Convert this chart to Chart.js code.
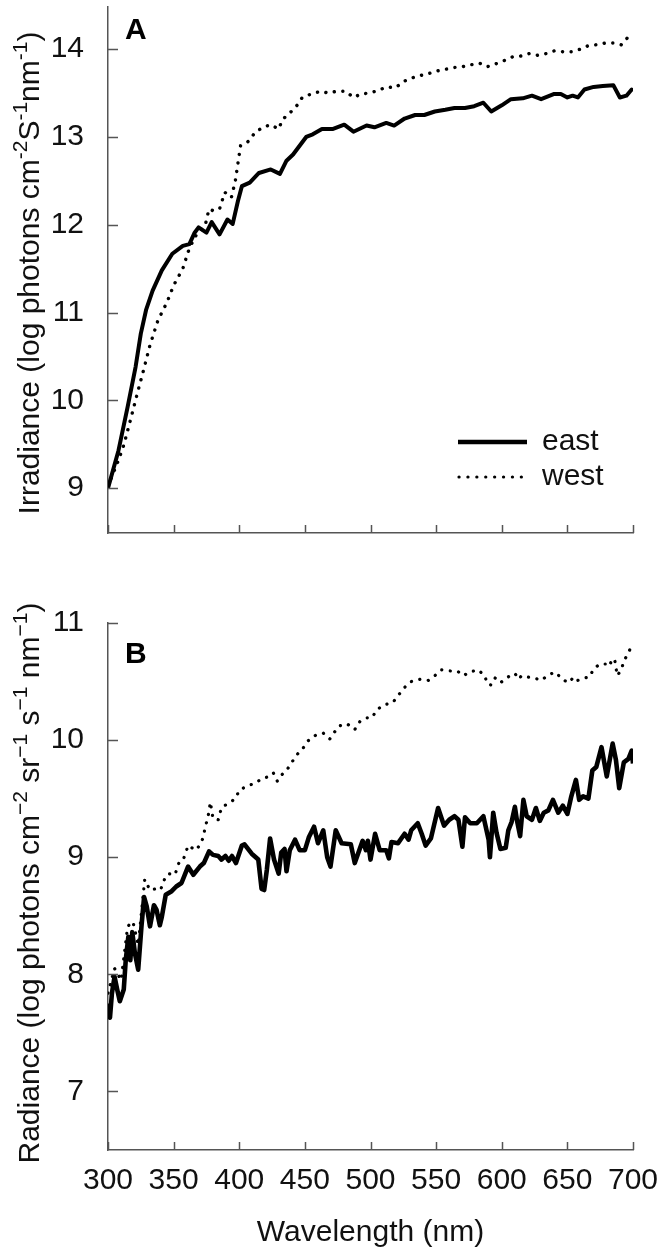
<!DOCTYPE html>
<html>
<head>
<meta charset="utf-8">
<script src="https://cdn.jsdelivr.net/npm/chart.js@4.4.1/dist/chart.umd.min.js"></script>
<style>
    body { margin: 0; background: #fff; width: 662px; height: 1253px; position: relative; overflow: hidden; }
    .panel { position: absolute; left: 0; width: 662px; }
    #boxA { top: 0; height: 560px; }
    #boxB { top: 570px; height: 683px; }
</style>
</head>
<body>
<div class="panel" id="boxA"><canvas id="chartA"></canvas></div>
<div class="panel" id="boxB"><canvas id="chartB"></canvas></div>
<script>
// ---- data ----
const xTicks = [300, 350, 400, 450, 500, 550, 600, 650, 700];
const yTicksA = [9, 10, 11, 12, 13, 14];
const yTicksB = [7, 8, 9, 10, 11];

// panel A: irradiance
const wlEastA = [300, 308, 315, 321, 325, 329, 334, 341, 349, 357, 362, 366, 369, 375, 379, 385, 391, 395, 399, 402, 408, 415, 424, 431, 436, 441, 446, 451, 456, 463, 471, 480, 487, 497, 503, 512, 518, 526, 534, 541, 549, 557, 564, 572, 579, 586, 592, 600, 607, 616, 623, 630, 640, 645, 650, 654, 658, 663, 670, 677, 685, 690, 695, 699, 700];
const irrEast = [9.00, 9.43, 9.93, 10.38, 10.76, 11.03, 11.25, 11.48, 11.67, 11.76, 11.78, 11.91, 11.97, 11.91, 12.03, 11.89, 12.06, 12.01, 12.27, 12.44, 12.48, 12.59, 12.63, 12.58, 12.73, 12.80, 12.90, 13.00, 13.03, 13.09, 13.09, 13.14, 13.06, 13.13, 13.11, 13.16, 13.13, 13.21, 13.25, 13.25, 13.29, 13.31, 13.33, 13.33, 13.35, 13.39, 13.29, 13.36, 13.43, 13.44, 13.47, 13.43, 13.49, 13.49, 13.45, 13.47, 13.45, 13.54, 13.57, 13.58, 13.59, 13.45, 13.47, 13.54, 13.52];
const wlWestA = [300, 308, 312, 317, 322, 327, 332, 338, 345, 350, 357, 361, 366, 374, 377, 380, 385, 389, 394, 397, 399, 401, 407, 412, 418, 424, 430, 433, 439, 444, 448, 455, 462, 468, 474, 481, 487, 493, 499, 506, 512, 519, 525, 531, 538, 544, 550, 557, 563, 570, 576, 583, 589, 595, 602, 608, 614, 621, 627, 634, 640, 647, 653, 660, 666, 672, 679, 685, 691, 697, 700];
const irrWest = [9.02, 9.32, 9.49, 9.77, 10.06, 10.34, 10.63, 10.91, 11.12, 11.31, 11.50, 11.69, 11.86, 11.99, 12.18, 12.16, 12.18, 12.37, 12.31, 12.50, 12.70, 12.90, 12.95, 13.05, 13.11, 13.14, 13.09, 13.20, 13.28, 13.36, 13.45, 13.49, 13.52, 13.50, 13.52, 13.52, 13.45, 13.49, 13.50, 13.53, 13.57, 13.56, 13.63, 13.67, 13.70, 13.72, 13.75, 13.77, 13.79, 13.80, 13.82, 13.84, 13.80, 13.83, 13.87, 13.91, 13.92, 13.95, 13.93, 13.95, 13.98, 13.97, 13.97, 14.00, 14.04, 14.05, 14.07, 14.07, 14.05, 14.15, 14.17];

// panel B: radiance
const wlEastB = [300, 301.5, 303, 305, 307, 309, 312, 313.5, 315.5, 317, 318.5, 320.5, 323, 325.5, 327.5, 329.5, 332, 335, 337, 339.5, 341, 344, 348.5, 352, 356, 361, 365, 370, 373, 377, 380, 384, 386.5, 389.5, 392, 394.5, 397.5, 402, 404, 409.5, 414.5, 417, 419, 421, 423.5, 426.5, 430, 432, 434.5, 436, 438.5, 442.5, 446, 450, 453, 457, 460, 464, 467, 469.5, 473.5, 478, 485, 488, 494, 496.5, 498, 500, 503.5, 507, 512, 514, 516, 521, 526, 529, 531, 536, 539, 542, 546, 551.5, 556, 560, 564, 567, 570, 572, 576, 581, 586, 590, 591, 593.5, 596, 599, 603, 605, 607.5, 610, 611.5, 614, 616.5, 619, 623, 626, 629, 632, 635.5, 639, 643, 646.5, 650, 653, 656.5, 659, 662, 666, 669, 672, 676, 680, 684.5, 687, 689.5, 693, 696.5, 699, 700];
const radEast = [7.75, 7.63, 7.84, 7.98, 7.87, 7.77, 7.87, 8.12, 8.32, 8.12, 8.36, 8.18, 8.04, 8.41, 8.66, 8.58, 8.41, 8.59, 8.55, 8.42, 8.49, 8.68, 8.71, 8.75, 8.78, 8.92, 8.85, 8.92, 8.95, 9.05, 9.02, 9.01, 8.98, 9.01, 8.97, 9.01, 8.95, 9.10, 9.11, 9.03, 8.98, 8.73, 8.72, 8.89, 9.16, 8.98, 8.86, 9.04, 9.07, 8.88, 9.06, 9.15, 9.06, 9.06, 9.17, 9.26, 9.12, 9.23, 9.00, 8.92, 9.23, 9.12, 9.11, 8.95, 9.14, 9.06, 9.14, 8.98, 9.20, 9.06, 9.06, 8.99, 9.13, 9.12, 9.20, 9.15, 9.23, 9.29, 9.20, 9.10, 9.16, 9.42, 9.27, 9.32, 9.35, 9.32, 9.09, 9.34, 9.29, 9.29, 9.35, 9.15, 9.00, 9.38, 9.21, 9.07, 9.08, 9.23, 9.30, 9.43, 9.32, 9.18, 9.49, 9.35, 9.32, 9.42, 9.31, 9.38, 9.40, 9.49, 9.38, 9.44, 9.37, 9.52, 9.66, 9.49, 9.52, 9.50, 9.74, 9.77, 9.94, 9.69, 9.97, 9.83, 9.59, 9.81, 9.84, 9.91, 9.80];
const wlWestB = [300, 305, 310, 315, 319, 323, 328, 332, 336, 340, 343, 346, 351, 354, 357, 359, 361, 364, 367, 371, 373, 374, 376, 378, 380, 384, 385, 387, 392, 397, 400, 406, 412, 417, 423, 426, 429, 432, 436, 440, 445, 448, 452, 458, 464, 469, 472, 476, 482, 488, 492, 497, 501, 505, 510, 517, 521, 526, 531, 538, 544, 549, 554, 561, 566, 571, 575, 582, 587, 589, 592, 595, 599, 605, 610, 613, 615, 619, 625, 630, 636, 641, 646, 651, 655, 658, 663, 667, 670, 675, 679, 682, 684, 686, 688, 691, 693, 696, 699, 700];
const radWest = [7.84, 8.05, 7.95, 8.41, 8.45, 8.25, 8.81, 8.72, 8.73, 8.72, 8.81, 8.86, 8.85, 8.95, 8.97, 9.03, 9.10, 9.08, 9.06, 9.12, 9.19, 9.26, 9.33, 9.47, 9.33, 9.32, 9.37, 9.43, 9.46, 9.50, 9.57, 9.61, 9.63, 9.67, 9.69, 9.72, 9.65, 9.70, 9.74, 9.81, 9.89, 9.92, 9.99, 10.04, 10.06, 10.01, 10.06, 10.12, 10.14, 10.09, 10.16, 10.19, 10.19, 10.26, 10.30, 10.32, 10.38, 10.45, 10.50, 10.52, 10.51, 10.55, 10.60, 10.59, 10.59, 10.55, 10.58, 10.60, 10.55, 10.48, 10.47, 10.53, 10.49, 10.54, 10.57, 10.52, 10.55, 10.54, 10.53, 10.51, 10.56, 10.58, 10.52, 10.49, 10.54, 10.51, 10.53, 10.54, 10.61, 10.65, 10.65, 10.63, 10.69, 10.69, 10.55, 10.60, 10.67, 10.74, 10.80, 10.82];

const FONT = '"Liberation Sans", Arial, sans-serif';
const FS = 30;
const axisColor = '#555';
Chart.defaults.font.family = FONT;
Chart.defaults.font.size = FS;
Chart.defaults.color = '#111';

function pts(xs, ys) {
    return xs.map((x, i) => ({ x: x, y: ys[i] }));
}

// tick marks pointing inward, panel letter, y title with superscripts, legend
function decor(letter, letterOff, titleSegs, titleX, titleY, showLegend) {
    return {
        id: 'decor' + letter,
        afterDraw(chart) {
            const ctx = chart.ctx;
            const area = chart.chartArea;
            const xs = chart.scales.x, ys = chart.scales.y;
            ctx.save();
            ctx.strokeStyle = axisColor;
            ctx.lineWidth = 1.5;
            ctx.beginPath();
            xs.ticks.forEach(t => {
                const px = Math.round(xs.getPixelForValue(t.value)) + 0.5;
                ctx.moveTo(px, area.bottom);
                ctx.lineTo(px, area.bottom - 8);
            });
            ys.ticks.forEach(t => {
                const py = Math.round(ys.getPixelForValue(t.value)) + 0.5;
                ctx.moveTo(area.left, py);
                ctx.lineTo(area.left + 10, py);
            });
            ctx.stroke();

            ctx.fillStyle = '#000';
            ctx.font = 'bold 30px ' + FONT;
            ctx.textAlign = 'left';
            ctx.textBaseline = 'alphabetic';
            ctx.fillText(letter, area.left + letterOff[0], area.top + letterOff[1]);

            // rotated y title
            ctx.fillStyle = '#111';
            ctx.save();
            ctx.translate(titleX, titleY);
            ctx.rotate(-Math.PI / 2);
            let total = 0;
            titleSegs.forEach(s => {
                ctx.font = (s.sup ? '21px ' : FS + 'px ') + FONT;
                s.w = ctx.measureText(s.t).width;
                total += s.w;
            });
            let cx = -total / 2;
            titleSegs.forEach(s => {
                ctx.font = (s.sup ? '21px ' : FS + 'px ') + FONT;
                ctx.fillText(s.t, cx, s.sup ? -12 : 0);
                cx += s.w;
            });
            ctx.restore();

            if (showLegend) {
                ctx.strokeStyle = '#000';
                ctx.lineWidth = 4.5;
                ctx.beginPath();
                ctx.moveTo(458, 442);
                ctx.lineTo(527, 442);
                ctx.stroke();
                ctx.lineWidth = 3.2;
                ctx.lineCap = 'round';
                ctx.setLineDash([0.1, 8.8]);
                ctx.beginPath();
                ctx.moveTo(459, 477);
                ctx.lineTo(522, 477);
                ctx.stroke();
                ctx.setLineDash([]);
                ctx.font = FS + 'px ' + FONT;
                ctx.fillStyle = '#111';
                ctx.textBaseline = 'middle';
                ctx.fillText(chart.data.datasets[0].label, 542, 442);
                ctx.fillText(chart.data.datasets[1].label, 542, 477);
            }
            ctx.restore();
        }
    };
}

function makeScales(yMin, yMax, yTicks, showX, xHeight) {
    return {
        x: {
            type: 'linear', min: 300, max: 700,
            afterBuildTicks: s => { s.ticks = xTicks.map(v => ({ value: v })); },
            afterFit: s => { s.height = xHeight; s.paddingLeft = 0; s.paddingRight = 0; },
            ticks: { display: showX, padding: 5, autoSkip: false, maxRotation: 0, color: '#111' },
            grid: { display: false },
            border: { display: true, color: axisColor, width: 1.5 },
            title: { display: showX, text: 'Wavelength (nm)', color: '#111', padding: { top: 0, bottom: 2 } }
        },
        y: {
            type: 'linear', min: yMin, max: yMax,
            afterBuildTicks: s => { s.ticks = yTicks.map(v => ({ value: v })); },
            afterFit: s => { s.width = 108; s.paddingTop = 0; s.paddingBottom = 0; },
            ticks: { padding: 16, color: '#111' },
            grid: { display: false },
            border: { display: true, color: axisColor, width: 1.5 }
        }
    };
}

function lineSet(label, data, solid, width) {
    return {
        label: label, data: data,
        borderColor: '#000', backgroundColor: '#000',
        borderWidth: width,
        borderDash: solid ? [] : [0.1, 8.5],
        borderCapStyle: solid ? 'butt' : 'round',
        borderJoinStyle: 'round',
        pointRadius: 0, tension: 0, fill: false
    };
}

const titleA = [
    { t: 'Irradiance (log photons cm' }, { t: '-2', sup: true }, { t: 'S' }, { t: '-1', sup: true },
    { t: 'nm' }, { t: '-1', sup: true }, { t: ')' }
];
const titleB = [
    { t: 'Radiance (log photons cm' }, { t: '\u22122', sup: true }, { t: ' sr' }, { t: '\u22121', sup: true },
    { t: ' s' }, { t: '\u22121', sup: true }, { t: ' nm' }, { t: '\u22121', sup: true }, { t: ')' }
];

new Chart(document.getElementById('chartA'), {
    type: 'line',
    data: {
        datasets: [
            lineSet('east', pts(wlEastA, irrEast), true, 4),
            lineSet('west', pts(wlWestA, irrWest), false, 3.4)
        ]
    },
    options: {
        responsive: true, maintainAspectRatio: false, animation: false, devicePixelRatio: 1,
        layout: { padding: { top: 7, right: 29, left: 0, bottom: 0 } },
        plugins: { legend: { display: false }, tooltip: { enabled: false } },
        scales: makeScales(8.49, 14.48, yTicksA, false, 27)
    },
    plugins: [decor('A', [17, 32], titleA, 39, 273, true)]
});

new Chart(document.getElementById('chartB'), {
    type: 'line',
    data: {
        datasets: [
            lineSet('east', pts(wlEastB, radEast), true, 4.6),
            lineSet('west', pts(wlWestB, radWest), false, 3.2)
        ]
    },
    options: {
        responsive: true, maintainAspectRatio: false, animation: false, devicePixelRatio: 1,
        layout: { padding: { top: 53, right: 29, left: 0, bottom: 0 } },
        plugins: { legend: { display: false }, tooltip: { enabled: false } },
        scales: makeScales(6.5, 11, yTicksB, true, 103)
    },
    plugins: [decor('B', [17, 40], titleB, 39, 313, false)]
});
</script>
</body>
</html>
